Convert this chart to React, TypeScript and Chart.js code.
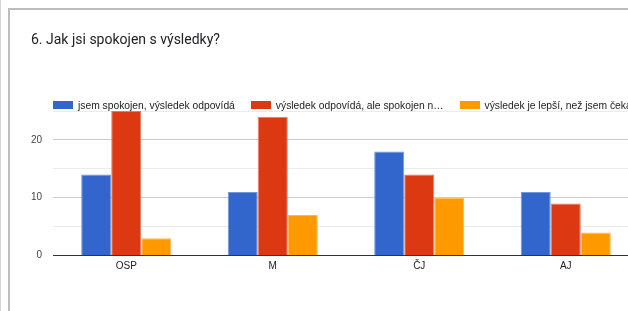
import React, { useEffect, useRef } from 'react';
import { Chart, registerables } from 'chart.js';

Chart.register(...registerables);

const titleText = '6. Jak jsi spokojen s výsledky?';
const categories = ['OSP', 'M', 'ČJ', 'AJ'];
const seriesLabels = [
  'jsem spokojen, výsledek odpovídá',
  'výsledek odpovídá, ale spokojen n…',
  'výsledek je lepší, než jsem čekal',
];
const spokojenValues = [14, 11, 18, 11];
const odpovidaValues = [25, 24, 14, 9];
const lepsiValues = [3, 7, 10, 4];
const seriesValues = [spokojenValues, odpovidaValues, lepsiValues];
const seriesColors = ['#3366cc', '#dc3912', '#ff9900'];
const seriesBorders = ['#7396dc', '#e67a60', '#ffb84d'];
const yMax = 25;
const yStep = 5;
const yLabelStep = 10;

const FONT = 'Arial, "Liberation Sans", sans-serif';

export default function App() {
  const ref = useRef<HTMLCanvasElement>(null);

  useEffect(() => {
    if (!ref.current) return;
    const chart = new Chart(ref.current, {
      type: 'bar',
      data: {
        labels: categories,
        datasets: seriesLabels.map((label, i) => ({
          label,
          data: seriesValues[i],
          backgroundColor: seriesColors[i],
          borderColor: seriesBorders[i],
          borderWidth: 1,
          categoryPercentage: 0.615,
          barPercentage: 1,
        })),
      },
      options: {
        responsive: false,
        maintainAspectRatio: false,
        animation: false,
        layout: { padding: { top: 111, right: 1, left: 0, bottom: 0 } },
        plugins: {
          legend: { display: false },
          tooltip: { enabled: false },
          title: { display: false },
        },
        scales: {
          x: {
            grid: { display: false, drawTicks: false },
            border: { display: true, color: '#333333', width: 1 },
            ticks: { color: '#222222', font: { family: FONT, size: 10 }, padding: 5 },
            afterFit: (s: any) => {
              s.height = 55.5;
            },
          },
          y: {
            min: 0,
            max: yMax,
            ticks: {
              stepSize: yStep,
              color: '#444444',
              font: { family: FONT, size: 10 },
              padding: 11,
              callback: (v: any) => (Number(v) % yLabelStep === 0 ? String(v) : ''),
            },
            grid: {
              drawTicks: false,
              color: (ctx: any) => {
                const v = ctx.tick ? ctx.tick.value : 0;
                if (v === 0) return '#333333';
                return v % yLabelStep === 0 ? '#cccccc' : '#ebebeb';
              },
            },
            border: { display: false },
            afterFit: (s: any) => {
              s.width = 53;
            },
          },
        },
      },
    });
    return () => chart.destroy();
  }, []);

  return (
    <div
      style={{
        position: 'fixed',
        left: 0,
        top: 0,
        width: 628,
        height: 311,
        overflow: 'hidden',
        background: '#ffffff',
      }}
    >
      <div style={{ position: 'absolute', left: 0, top: 0, width: 1, height: 311, background: '#d6d6d6' }} />
      <div
        style={{
          position: 'absolute',
          left: 8,
          top: 8,
          width: 700,
          height: 400,
          border: '2px solid #bdbdbd',
          boxSizing: 'border-box',
        }}
      />
      <canvas
        ref={ref}
        width={640}
        height={311}
        style={{ position: 'absolute', left: 0, top: 0, width: 640, height: 311 }}
      />
      <div
        style={{
          position: 'absolute',
          left: 31,
          top: 31,
          lineHeight: '16px',
          fontFamily: 'Roboto, sans-serif',
          fontSize: 14,
          color: '#202124',
          whiteSpace: 'nowrap',
        }}
      >
        {titleText}
      </div>
      <div
        style={{
          position: 'absolute',
          left: 53,
          top: 99,
          height: 12,
          display: 'flex',
          alignItems: 'center',
          whiteSpace: 'nowrap',
          fontFamily: FONT,
          fontSize: 10.3,
          color: '#222222',
        }}
      >
        {seriesLabels.map((l, i) => (
          <div key={i} style={{ display: 'flex', alignItems: 'center', marginRight: 16 }}>
            <div style={{ width: 20, height: 8, background: seriesColors[i], marginRight: 5 }} />
            <span>{l}</span>
          </div>
        ))}
      </div>
    </div>
  );
}
